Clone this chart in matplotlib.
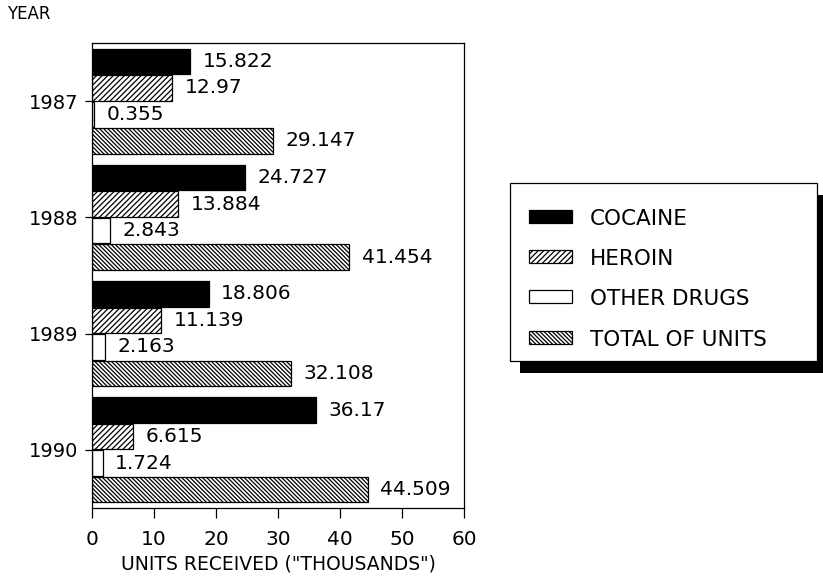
import matplotlib
matplotlib.use("Agg")
import matplotlib.pyplot as plt
from matplotlib.patches import Rectangle
import numpy as np

plt.rcParams['font.family'] = ['DejaVu Sans']
plt.rcParams['hatch.linewidth'] = 0.9

years = ["1987", "1988", "1989", "1990"]
series = ["COCAINE", "HEROIN", "OTHER DRUGS", "TOTAL OF UNITS"]
cocaine = [15.822, 24.727, 18.806, 36.17]
heroin = [12.97, 13.884, 11.139, 6.615]
other_drugs = [0.355, 2.843, 2.163, 1.724]
total_units = [29.147, 41.454, 32.108, 44.509]
x_ticks = [0, 10, 20, 30, 40, 50, 60]

styles = [
    dict(facecolor="black", hatch=None),
    dict(facecolor="white", hatch="//////"),
    dict(facecolor="white", hatch=None),
    dict(facecolor="white", hatch="\\\\\\\\\\\\\\\\"),
]

W, H = 823, 579
fig = plt.figure(figsize=(W / 100, H / 100), dpi=100)
ax = fig.add_axes([92 / W, 1 - 508 / H, (464 - 92) / W, (508 - 43) / H])

y = np.arange(len(years))
bar_h = 0.22
offsets = [-0.342, -0.114, 0.114, 0.342]
for vals, off, st in zip([cocaine, heroin, other_drugs, total_units], offsets, styles):
    bars = ax.barh(y + off, vals, height=bar_h, color=st["facecolor"],
                   edgecolor="black", linewidth=0.9, hatch=st["hatch"])
    for b, v in zip(bars, vals):
        ax.annotate(f"{v:g}", xy=(v, b.get_y() + b.get_height() / 2),
                    xytext=(9, 0), textcoords="offset points",
                    ha="left", va="center", fontsize=14.5)

ax.set_xlim(0, 60)
ax.set_ylim(3.5, -0.5)
ax.set_xticks(x_ticks)
ax.set_xticklabels([str(t) for t in x_ticks])
ax.set_yticks(y)
ax.set_yticklabels(years)
ax.tick_params(axis="x", direction="out", length=7, width=0.9, pad=9, labelsize=14.5)
ax.tick_params(axis="y", direction="out", length=5, width=0.9, pad=5, labelsize=14)
for s in ax.spines.values():
    s.set_linewidth(0.9)
ax.set_xlabel('UNITS RECEIVED ("THOUSANDS")', fontsize=13.5, labelpad=4)

fig.text(7 / W, 1 - 14 / H, "YEAR", ha="left", va="center", fontsize=12)

# legend box with a solid drop shadow
def px_rect(x0, y0, x1, y1, **kw):
    return Rectangle((x0 / W, 1 - y1 / H), (x1 - x0) / W, (y1 - y0) / H,
                     transform=fig.transFigure, **kw)

fig.patches.append(px_rect(520, 195, 823, 373, facecolor="black", edgecolor="none"))
fig.patches.append(px_rect(510, 183, 817, 361, facecolor="white", edgecolor="black", linewidth=0.9))

row_y = [219, 259, 299, 340]
for name, st, ry in zip(series, styles, row_y):
    fig.patches.append(px_rect(529, ry - 9, 572, ry + 4, facecolor=st["facecolor"],
                               edgecolor="black", linewidth=0.9, hatch=st["hatch"]))
    fig.text(590 / W, 1 - ry / H, name, ha="left", va="center", fontsize=15.5)

fig.savefig("out.png", dpi=100)
